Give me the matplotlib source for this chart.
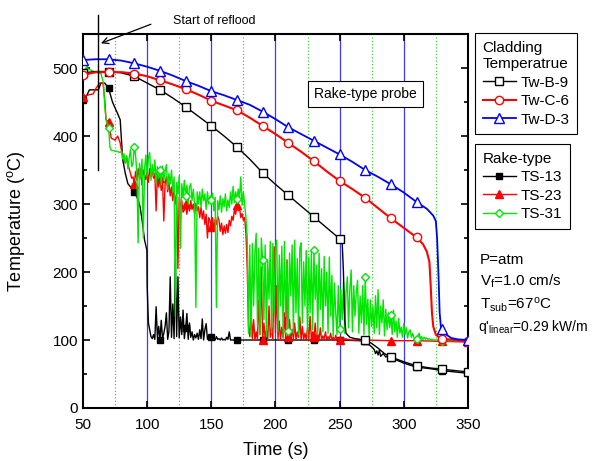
import numpy as np
import matplotlib
matplotlib.use("Agg")
import matplotlib.pyplot as plt
from matplotlib.ticker import MultipleLocator

plt.rcParams["font.family"] = ["Liberation Sans", "DejaVu Sans"]
plt.rcParams["mathtext.default"] = "regular"
plt.rcParams["font.size"] = 11

MARK_T = np.arange(50, 351, 20)

# --- cladding temperatures (smooth) ---
tw_d3_t = [50, 60, 70, 80, 90, 100, 110, 120, 130, 140, 150, 160, 170, 180, 190, 200, 210, 220, 230,
           240, 250, 260, 270, 280, 290, 300, 310, 318, 323, 325, 326, 327, 328, 329, 330, 333, 337, 342, 350]
tw_d3 = [512, 513, 513, 511, 507, 502, 496, 489, 481, 474, 466, 460, 453, 446, 436, 425, 413, 403, 393,
         383, 373, 362, 350, 340, 329, 317, 303, 293, 283, 275, 250, 200, 140, 118, 116, 108, 103, 101, 100]

tw_c6_t = [50, 60, 70, 80, 90, 100, 110, 120, 130, 140, 150, 160, 170, 180, 190, 200, 210, 220, 230, 240,
           250, 260, 270, 280, 290, 300, 310, 315, 318, 320, 321, 322, 323, 325, 328, 330, 335, 350]
tw_c6 = [490, 494, 494, 494, 492, 488, 482, 476, 469, 461, 452, 445, 438, 427, 415, 403, 390, 377, 363, 348,
         334, 322, 309, 294, 279, 265, 251, 241, 230, 215, 180, 140, 120, 108, 103, 101, 101, 98]

tw_b9_t = [50, 60, 70, 80, 90, 100, 110, 120, 130, 140, 150, 160, 170, 180, 190, 200, 210, 220, 230, 240,
           250, 252, 253, 254, 255, 258, 262, 270, 275, 280, 285, 290, 300, 310, 320, 330, 340, 350]
tw_b9 = [493, 495, 495, 493, 488, 478, 468, 456, 443, 429, 415, 400, 384, 366, 346, 329, 313, 297, 281, 265,
         249, 245, 200, 130, 110, 104, 102, 100, 95, 88, 80, 75, 68, 62, 59, 57, 55, 53]

# --- rake-type probe TS-13 ---
ts13_a_t = [50, 53, 55, 62, 64, 67, 70, 73, 77, 79, 80, 81, 83, 85, 90, 93, 94.5, 96, 97, 98, 99.8]
ts13_a = [453, 460, 468, 468, 478, 478, 470, 450, 433, 424, 394, 365, 345, 330, 318, 306, 296, 277, 262, 247, 232]
ts13_b = [180, 125, 115, 105, 102, 108, 101, 149, 104, 120, 100, 129, 102, 110, 120, 140, 101, 113, 193, 104,
          153, 102, 218, 105, 193, 103, 134, 108, 144, 102, 118, 139, 101, 125, 104, 112, 100, 108, 103, 110,
          101, 115, 102, 131, 100, 115, 124, 101, 106, 100, 104, 101, 103, 100, 105, 101, 102, 100, 103, 100,
          101, 100, 104, 101, 112, 100]  # t = 100..165
ts13_c_t = [170, 190, 210, 230, 250, 265, 270, 273, 275, 277, 278, 279, 280, 281, 282, 284, 286, 288, 290,
            295, 300, 305, 310, 320, 330, 340, 350]
ts13_c = [100, 100, 100, 100, 100, 99, 98, 93, 90, 86, 80, 84, 78, 85, 76, 80, 75, 77, 74,
          70, 66, 63, 60, 58, 55, 53, 51]

# --- rake-type probe TS-23 ---
ts23_a_t = [50, 55, 58, 60, 63, 65.6, 67, 68, 70, 71, 72, 75, 76, 77, 79]
ts23_a = [458, 461, 462, 470, 478, 478, 453, 424, 421, 409, 397, 394, 397, 400, 390]
ts23_b = [379, 372, 368, 360, 370, 358, 352, 345, 338, 340, 330, 348, 335, 352, 338, 345, 328, 350, 343, 336,
          348, 332, 352, 340, 350, 338, 345, 290, 342, 325, 338, 320, 336, 275, 330, 340, 318, 332, 312, 325,
          305, 321, 300, 315, 205, 310, 296, 305, 288, 291, 300, 285, 302, 290, 305, 292, 300, 285, 301, 290,
          296, 280, 295, 278, 290, 270, 285, 250, 280, 276, 266, 280, 262, 278, 270, 282, 276, 260, 272, 255,
          268, 257, 270, 258, 276, 268, 282, 276, 292, 285, 298, 290, 295, 280, 286, 276, 280, 257, 207]  # t = 80..178
ts23_c = [120, 105, 140, 102, 130, 100, 112, 101, 159, 108, 207, 100, 125, 102, 115, 100, 150, 104, 118, 101,
          237, 110, 180, 102, 128, 100, 119, 103, 140, 101, 218, 105, 130, 100, 116, 102, 125, 100, 112, 104,
          134, 100, 120, 101, 110, 100, 118, 102, 135, 100, 112, 104, 125, 100, 108, 101, 118, 100, 106, 102,
          112, 100, 105, 101, 110, 100, 104, 100, 107, 100, 103, 100, 102, 100, 104, 100, 102, 100, 101, 100]  # t = 179..258
ts23_d_t = [270, 290, 310, 330, 350]
ts23_d = [100, 99, 99, 98, 97]

# --- rake-type probe TS-31 ---
ts31_a_t = [50, 55, 60, 64, 66, 67, 68, 70, 71, 72, 75, 79]
ts31_a = [503, 498, 494, 492, 478, 443, 424, 412, 384, 379, 378, 376]
ts31_b = [378, 366, 374, 360, 371, 352, 368, 380, 355, 360, 384, 372, 345, 243, 360, 338, 366, 250, 352, 372,
          340, 368, 376, 335, 358, 342, 365, 330, 355, 338, 350, 328, 356, 335, 348, 358, 322, 345, 330, 350,
          318, 340, 135, 332, 315, 342, 235, 330, 310, 335, 312, 328, 300, 325, 330, 305, 322, 298, 148, 318,
          300, 318, 295, 322, 305, 315, 292, 318, 300, 312, 306, 316, 290, 310, 148, 305, 292, 312, 288, 308,
          296, 315, 290, 306, 295, 318, 300, 326, 302, 318, 307, 322, 310, 340, 298, 318, 300, 280, 252]  # t = 80..178
ts31_c = [110, 240, 105, 242, 150, 230, 257, 120, 235, 108, 250, 218, 130, 240, 105, 218, 160, 245, 110, 242,
          140, 230, 247, 112, 225, 150, 238, 104, 245, 135, 215, 113, 228, 165, 240, 110, 247, 140, 220, 108,
          235, 243, 125, 215, 150, 232, 106, 222, 140, 230, 115, 232, 160, 210, 108, 228, 145, 205, 112, 223,
          150, 200, 110, 222, 135, 195, 105, 184, 140, 108, 180, 116, 174, 130, 185, 110, 170, 193, 118, 175,
          203, 112, 180, 135, 170, 188, 110, 165, 125, 180, 108, 193, 123, 160, 106, 159, 120, 150, 110, 165,
          118, 174, 108, 150, 125, 159, 106, 145, 115, 140, 118, 137, 108, 144, 112, 128, 104, 132, 110, 119,
          104, 124, 108, 118, 103, 112, 115, 104, 110, 103, 101, 102, 106, 110, 102, 105, 101, 104, 101, 103,
          101, 102, 100, 101, 100, 100, 100]  # t = 179..325
ts31_d_t = [330, 340, 350]
ts31_d = [99, 99, 99]


def series(*parts):
    t = np.concatenate([np.asarray(p[0], float) for p in parts])
    v = np.concatenate([np.asarray(p[1], float) for p in parts])
    return t, v


def marks(t):
    return list(np.nonzero(np.isin(t, MARK_T))[0])


fig = plt.figure(figsize=(5.94, 4.61), dpi=100)
ax = fig.add_axes([0.1397, 0.115, 0.648, 0.811])

for x in range(100, 301, 50):
    ax.axvline(x, color="#3a3aff", lw=0.9, zorder=1)
for x in range(75, 326, 50):
    ax.axvline(x, color="#22cc22", lw=0.8, ls=(0, (1, 2)), zorder=1)

t13, v13 = series((ts13_a_t, ts13_a), (np.arange(100, 166), ts13_b), (ts13_c_t, ts13_c))
t23, v23 = series((ts23_a_t, ts23_a), (np.arange(80, 179), ts23_b), (np.arange(179, 259), ts23_c),
                  (ts23_d_t, ts23_d))
t31, v31 = series((ts31_a_t, ts31_a), (np.arange(80, 179), ts31_b), (np.arange(179, 326), ts31_c),
                  (ts31_d_t, ts31_d))

h13, = ax.plot(t13, v13, color="black", lw=1.0, marker="s", ms=5, mfc="black",
               markevery=marks(t13), label="TS-13", zorder=3)
h23, = ax.plot(t23, v23, color="#ff0000", lw=1.0, marker="^", ms=6, mfc="#ff0000",
               markevery=marks(t23), label="TS-23", zorder=3)
h31, = ax.plot(t31, v31, color="#00e600", lw=1.0, marker="D", ms=4.5, mfc="white",
               markevery=marks(t31), label="TS-31", zorder=4)

tb = np.asarray(tw_b9_t, float); tc = np.asarray(tw_c6_t, float); td = np.asarray(tw_d3_t, float)
hb, = ax.plot(tb, tw_b9, color="black", lw=1.0, marker="s", ms=5.5, mfc="white",
              markevery=marks(tb), label="Tw-B-9", zorder=5)
hc, = ax.plot(tc, tw_c6, color="#ff0000", lw=1.5, marker="o", ms=6, mfc="white",
              markevery=marks(tc), label="Tw-C-6", zorder=5)
hd, = ax.plot(td, tw_d3, color="#0000ff", lw=1.3, marker="^", ms=6.5, mfc="white",
              markevery=marks(td), label="Tw-D-3", zorder=5)

# start of reflood marker
ax.plot([62, 62], [350, 578], color="black", lw=1.0, clip_on=False, zorder=6)
ax.annotate("", xy=(62, 535), xytext=(105, 566), annotation_clip=False,
            arrowprops={"arrowstyle": "->", "color": "black", "lw": 0.9})
ax.text(120, 570, "Start of reflood", fontsize=9, va="center", ha="left", clip_on=False)
ax.text(270, 462, "Rake-type probe", fontsize=10, ha="center", va="center", zorder=7,
        bbox={"boxstyle": "square,pad=0.45", "fc": "white", "ec": "black", "lw": 0.8})

ax.set_xlim(50, 350)
ax.set_ylim(0, 550)
ax.xaxis.set_major_locator(MultipleLocator(50))
ax.yaxis.set_major_locator(MultipleLocator(100))
ax.yaxis.set_minor_locator(MultipleLocator(50))
ax.tick_params(which="both", direction="in", top=True, right=True, labelsize=11, width=1.2)
ax.tick_params(which="major", length=5)
ax.tick_params(which="minor", length=3)
ax.tick_params(axis="x", pad=7)
for s in ax.spines.values():
    s.set_linewidth(1.5)
ax.set_xlabel("Time (s)", fontsize=13)
ax.set_ylabel("Temperature ($^{o}$C)", fontsize=13)
ax.xaxis.set_label_coords(0.5, -0.092)
ax.yaxis.set_label_coords(-0.145, 0.5)

common = dict(loc="upper left", frameon=True, fancybox=False, edgecolor="black", framealpha=1,
              fontsize=11, title_fontsize=11, alignment="left", handlelength=2.2,
              handletextpad=0.3, labelspacing=0.3, borderpad=0.5, borderaxespad=0)
l1 = fig.legend(handles=[hb, hc, hd], title="Cladding\nTemperatrue",
                bbox_to_anchor=(0.7997, 0.928), **common)
l2 = fig.legend(handles=[h13, h23, h31], title="Rake-type",
                bbox_to_anchor=(0.7997, 0.6876), **common)
for lg in (l1, l2):
    lg.get_frame().set_linewidth(0.8)

fig.text(480 / 594, 1 - 260 / 461, "P=atm", fontsize=11, va="center")
fig.text(480 / 594, 1 - 281 / 461, "V$_f$=1.0 cm/s", fontsize=11, va="center")
fig.text(480 / 594, 1 - 305 / 461, "T$_{sub}$=67$^o$C", fontsize=11, va="center")
fig.text(478 / 594, 1 - 327 / 461, "q'$_{linear}$=0.29 kW/m", fontsize=10, va="center")

fig.savefig("out.png", dpi=100)
